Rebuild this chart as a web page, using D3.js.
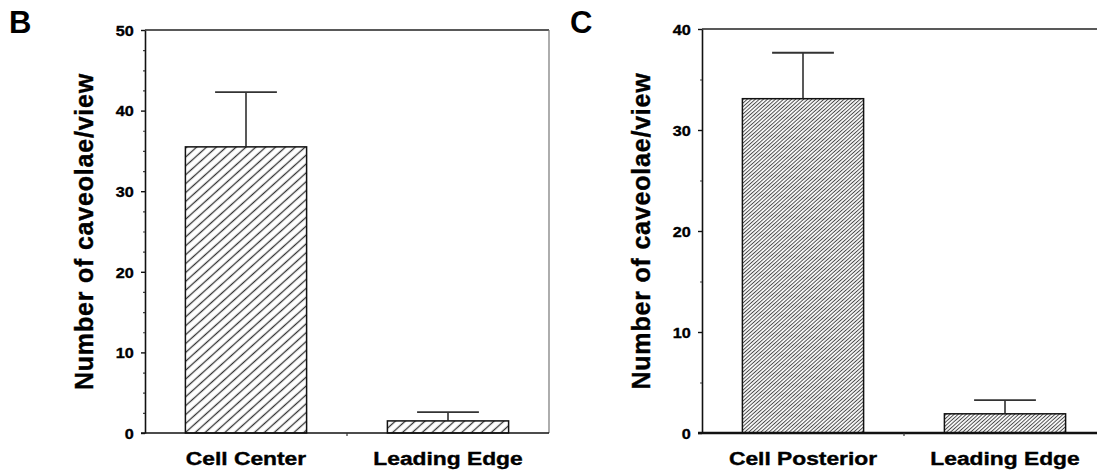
<!DOCTYPE html>
<html>
<head>
<meta charset="utf-8">
<script src="https://cdn.jsdelivr.net/npm/d3@7"></script>
<style>
  html, body { margin: 0; padding: 0; background: #fff; }
  svg { display: block; font-family: "Liberation Sans", Arial, Helvetica, sans-serif; }
  text { font-weight: bold; fill: #000; }
</style>
</head>
<body>
<svg id="fig" width="1097" height="476"></svg>
<script>
// Panel B: caveolae per view, cell center vs leading edge
const categoriesB = ["Cell Center", "Leading Edge"];
const meansB = [35.5, 1.5];
const errorsB = [6.8, 1.1];
const ticksB = [0, 10, 20, 30, 40, 50];

// Panel C: caveolae per view, cell posterior vs leading edge
const categoriesC = ["Cell Posterior", "Leading Edge"];
const meansC = [33.1, 1.9];
const errorsC = [4.55, 1.35];
const ticksC = [0, 10, 20, 30, 40];

const svg = d3.select("#fig");
const defs = svg.append("defs");

// diagonal hatch fills
function hatch(id, spacing, width, color) {
  const p = defs.append("pattern")
    .attr("id", id)
    .attr("patternUnits", "userSpaceOnUse")
    .attr("width", spacing).attr("height", spacing)
    .attr("patternTransform", "rotate(48)");
  p.append("rect").attr("width", spacing).attr("height", spacing).attr("fill", "#fff");
  p.append("line")
    .attr("x1", spacing / 2).attr("y1", 0)
    .attr("x2", spacing / 2).attr("y2", spacing)
    .attr("stroke", color).attr("stroke-width", width);
}
hatch("hatchB", 6.6, 1.3, "#333");
hatch("hatchC", 2.7, 1.0, "#4a4a4a");

function panel(opts) {
  const { letter, letterX, cats, means, errs, ticks, max, minorStep,
          x0, x1, yTop, yBase, fill, rightLine, baseWidth, titleX } = opts;

  const g = svg.append("g");
  const y = d3.scaleLinear().domain([0, max]).range([yBase, yTop]);
  const x = d3.scaleBand().domain(cats).range([x0, x1])
    .paddingInner(0.4).paddingOuter(0.2);

  // panel letter
  g.append("text").attr("x", letterX).attr("y", 33)
    .style("font-size", "31px").text(letter);

  // minor ticks
  const minor = d3.range(0, max + 1e-9, minorStep).filter(v => ticks.indexOf(v) < 0);
  g.append("g").attr("transform", `translate(${x0},0)`)
    .call(d3.axisLeft(y).tickValues(minor).tickSize(2).tickFormat(""))
    .call(a => a.select(".domain").remove())
    .selectAll("line").attr("stroke", "#444").attr("stroke-width", 1.2);

  // major ticks and labels
  const ya = g.append("g").attr("transform", `translate(${x0},0)`)
    .call(d3.axisLeft(y).tickValues(ticks).tickSize(4).tickPadding(6).tickSizeOuter(0));
  ya.select(".domain").attr("stroke", "#111").attr("stroke-width", 1.6);
  ya.selectAll(".tick line").attr("stroke", "#111").attr("stroke-width", 1.4);
  ya.selectAll(".tick text")
    .style("font-size", "14.5px").style("font-family", "inherit").style("font-weight", "bold")
    .attr("fill", "#000").attr("stroke", "#000").attr("stroke-width", 0.35)
    .attr("dy", "0.36em")
    .attr("transform", "scale(1.12,1)");

  // frame: top line and optional right line
  g.append("line").attr("x1", x0).attr("x2", Math.min(x1, 1097)).attr("y1", yTop).attr("y2", yTop)
    .attr("stroke", "#222").attr("stroke-width", 1.5);
  if (rightLine) {
    g.append("line").attr("x1", x1).attr("x2", x1).attr("y1", yTop).attr("y2", yBase)
      .attr("stroke", "#777").attr("stroke-width", 1.2);
  }

  // y axis title
  g.append("text")
    .attr("transform", `translate(${titleX},${(yTop + yBase) / 2}) rotate(-90)`)
    .attr("text-anchor", "middle")
    .attr("stroke", "#000").attr("stroke-width", 0.4)
    .style("font-size", "25px").style("letter-spacing", "0.8px")
    .text("Number of caveolae/view");

  // bars
  g.selectAll("rect.bar").data(cats).join("rect")
    .attr("class", "bar")
    .attr("x", d => x(d))
    .attr("width", x.bandwidth())
    .attr("y", (d, i) => y(means[i]))
    .attr("height", (d, i) => y(0) - y(means[i]))
    .attr("fill", `url(#${fill})`)
    .attr("stroke", "#111").attr("stroke-width", 1.5);

  // error bars (upper only)
  const capW = x.bandwidth() * 0.51;
  const eb = g.selectAll("g.err").data(cats).join("g").attr("class", "err");
  eb.append("line")
    .attr("x1", d => x(d) + x.bandwidth() / 2).attr("x2", d => x(d) + x.bandwidth() / 2)
    .attr("y1", (d, i) => y(means[i])).attr("y2", (d, i) => y(means[i] + errs[i]))
    .attr("stroke", "#222").attr("stroke-width", 1.5);
  eb.append("line")
    .attr("x1", d => x(d) + x.bandwidth() / 2 - capW / 2)
    .attr("x2", d => x(d) + x.bandwidth() / 2 + capW / 2)
    .attr("y1", (d, i) => y(means[i] + errs[i])).attr("y2", (d, i) => y(means[i] + errs[i]))
    .attr("stroke", "#333").attr("stroke-width", 1.8);

  // x axis with category labels
  const xa = g.append("g").attr("transform", `translate(0,${yBase})`)
    .call(d3.axisBottom(x).tickSize(0).tickPadding(19).tickSizeOuter(0));
  xa.select(".domain").remove();
  xa.selectAll(".tick text")
    .style("font-size", "19px").style("font-family", "inherit").style("font-weight", "bold")
    .attr("fill", "#000").attr("stroke", "#000").attr("stroke-width", 0.4)
    .attr("transform", "scale(1.2,1)");
  // baseline from the zero tick across the panel
  g.append("line").attr("x1", x0 - 4).attr("x2", Math.min(x1, 1097))
    .attr("y1", yBase).attr("y2", yBase)
    .attr("stroke", "#111").attr("stroke-width", baseWidth);
  // small tick between the two categories
  const mid = x(cats[1]) - x.step() * x.paddingInner() / 2;
  g.append("line").attr("x1", mid).attr("x2", mid).attr("y1", yBase).attr("y2", yBase + 3)
    .attr("stroke", "#333").attr("stroke-width", 1.2);
}

panel({
  letter: "B", letterX: 9, cats: categoriesB, means: meansB, errs: errorsB,
  ticks: ticksB, max: 50, minorStep: 2.5,
  x0: 145, x1: 549, yTop: 30, yBase: 433, fill: "hatchB",
  rightLine: true, baseWidth: 1.6, titleX: 93
});

panel({
  letter: "C", letterX: 570, cats: categoriesC, means: meansC, errs: errorsC,
  ticks: ticksC, max: 40, minorStep: 5,
  x0: 702, x1: 1106, yTop: 29, yBase: 433, fill: "hatchC",
  rightLine: false, baseWidth: 2.6, titleX: 650
});
</script>
</body>
</html>
